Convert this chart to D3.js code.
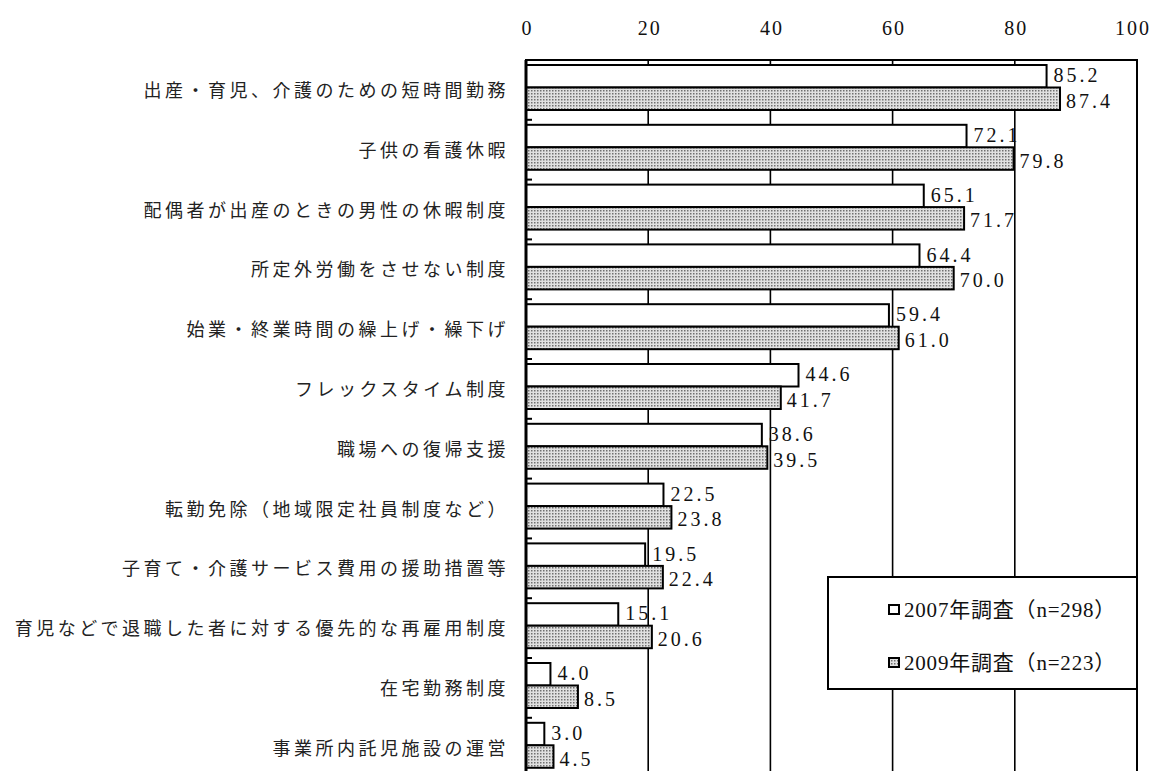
<!DOCTYPE html>
<html><head><meta charset="utf-8">
<script src="https://cdn.jsdelivr.net/npm/d3@7"></script>
<style>
body{margin:0;background:#fff;}
svg{display:block;}
</style></head>
<body>
<svg id="chart" width="1155" height="771"></svg>
<script>
const categories = [
  "出産・育児、介護のための短時間勤務",
  "子供の看護休暇",
  "配偶者が出産のときの男性の休暇制度",
  "所定外労働をさせない制度",
  "始業・終業時間の繰上げ・繰下げ",
  "フレックスタイム制度",
  "職場への復帰支援",
  "転勤免除（地域限定社員制度など）",
  "子育て・介護サービス費用の援助措置等",
  "育児などで退職した者に対する優先的な再雇用制度",
  "在宅勤務制度",
  "事業所内託児施設の運営"
];
const values2007 = [85.2, 72.1, 65.1, 64.4, 59.4, 44.6, 38.6, 22.5, 19.5, 15.1, 4.0, 3.0];
const values2009 = [87.4, 79.8, 71.7, 70.0, 61.0, 41.7, 39.5, 23.8, 22.4, 20.6, 8.5, 4.5];
const seriesNames = ["2007年調査（n=298）", "2009年調査（n=223）"];
const tickValues = [0, 20, 40, 60, 80, 100];

const W = 1155;
const svg = d3.select("#chart");
const pLeft = 526, pRight = 1137, pTop = 60, step = 59.8;
const pBottom = pTop + step * categories.length;

const x = d3.scaleLinear().domain([0, 100]).range([pLeft, pRight]);
const y = d3.scaleBand().domain(categories).range([pTop, pBottom]).padding(0);
const ys = d3.scaleBand().domain(["2007", "2009"]).range([5, 50]).padding(0);

const defs = svg.append("defs");
const pat = defs.append("pattern").attr("id", "dots").attr("patternUnits", "userSpaceOnUse")
  .attr("width", 3).attr("height", 3);
pat.append("rect").attr("width", 3).attr("height", 3).attr("fill", "#e0e0e0");
pat.append("rect").attr("x", 0).attr("y", 0).attr("width", 1.5).attr("height", 1.5).attr("fill", "#707070");

const numFont = "'Liberation Serif', 'Noto Sans CJK JP', serif";
const jpFont = "'Noto Sans CJK JP', sans-serif";

// gridlines
svg.append("g").selectAll("line").data(tickValues.filter(d => d > 0 && d < 100)).join("line")
  .attr("x1", d => x(d)).attr("x2", d => x(d)).attr("y1", pTop).attr("y2", pBottom)
  .attr("stroke", "#000").attr("stroke-width", 1.6);

// top axis labels
const ax = svg.append("g").attr("transform", `translate(1,35)`)
  .call(d3.axisTop(x).tickValues(tickValues).tickSize(0).tickPadding(0).tickFormat(d3.format("d")));
ax.select(".domain").remove();
ax.selectAll("text").attr("font-family", numFont).attr("font-size", 20).attr("fill", "#111")
  .attr("letter-spacing", "2px");
// keep labels inside the picture
ax.selectAll(".tick").each(function () {
  const t = d3.select(this).select("text");
  const bb = this.getBoundingClientRect();
  if (bb.right > W - 4) t.attr("dx", -(bb.right - (W - 4)));
});

// category labels
svg.append("g").selectAll("text").data(categories).join("text")
  .attr("x", 509).attr("y", d => y(d) + y.bandwidth() / 2 - 1)
  .attr("text-anchor", "end").attr("dominant-baseline", "central")
  .attr("font-family", jpFont).attr("font-size", 18).attr("letter-spacing", "3.5px")
  .attr("fill", "#222").text(d => d);

// bars
const rows = categories.map((c, i) => ({c, v07: values2007[i], v09: values2009[i]}));
const gBars = svg.append("g");
gBars.selectAll("rect.b07").data(rows).join("rect").attr("class", "b07")
  .attr("x", x(0)).attr("y", d => y(d.c) + ys("2007"))
  .attr("width", d => x(d.v07) - x(0)).attr("height", ys.bandwidth())
  .attr("fill", "#fff").attr("stroke", "#000").attr("stroke-width", 2);
gBars.selectAll("rect.b09").data(rows).join("rect").attr("class", "b09")
  .attr("x", x(0)).attr("y", d => y(d.c) + ys("2009"))
  .attr("width", d => x(d.v09) - x(0)).attr("height", ys.bandwidth())
  .attr("fill", "url(#dots)").attr("stroke", "#000").attr("stroke-width", 2);

// value labels
const gLab = svg.append("g").attr("font-family", numFont).attr("font-size", 20)
  .attr("letter-spacing", "3px").attr("fill", "#111");
gLab.selectAll("text.l07").data(rows).join("text").attr("class", "l07")
  .attr("x", d => x(d.v07) + 7).attr("y", d => y(d.c) + ys("2007") + ys.bandwidth() / 2 - 1)
  .attr("dominant-baseline", "central").text(d => d.v07.toFixed(1));
gLab.selectAll("text.l09").data(rows).join("text").attr("class", "l09")
  .attr("x", d => x(d.v09) + 6).attr("y", d => y(d.c) + ys("2009") + ys.bandwidth() / 2 + 2)
  .attr("dominant-baseline", "central").text(d => d.v09.toFixed(1));

// left minor ticks
svg.append("g").selectAll("line").data(categories.slice(0, -1)).join("line")
  .attr("x1", pLeft).attr("x2", pLeft + 6)
  .attr("y1", d => y(d) + step).attr("y2", d => y(d) + step)
  .attr("stroke", "#000").attr("stroke-width", 2);

// plot border
svg.append("rect").attr("x", pLeft).attr("y", pTop).attr("width", pRight - pLeft).attr("height", pBottom - pTop)
  .attr("fill", "none").attr("stroke", "#000").attr("stroke-width", 2);
svg.append("line").attr("x1", pLeft).attr("x2", pLeft).attr("y1", pTop).attr("y2", pBottom)
  .attr("stroke", "#000").attr("stroke-width", 3);

// legend
const lg = svg.append("g");
lg.append("rect").attr("x", 828).attr("y", 577).attr("width", pRight - 828).attr("height", 112)
  .attr("fill", "#fff").attr("stroke", "#000").attr("stroke-width", 2);
const fills = ["#fff", "url(#dots)"];
seriesNames.forEach((name, i) => {
  const cy = 610 + i * 53;
  lg.append("rect").attr("x", 889).attr("y", cy - 5).attr("width", 10).attr("height", 9)
    .attr("fill", fills[i]).attr("stroke", "#000").attr("stroke-width", 2);
  lg.append("text").attr("x", 904).attr("y", cy).attr("dominant-baseline", "central")
    .attr("font-family", numFont).attr("font-size", 21).attr("letter-spacing", "0.8px")
    .attr("fill", "#111").text(name);
});
</script>
</body></html>
